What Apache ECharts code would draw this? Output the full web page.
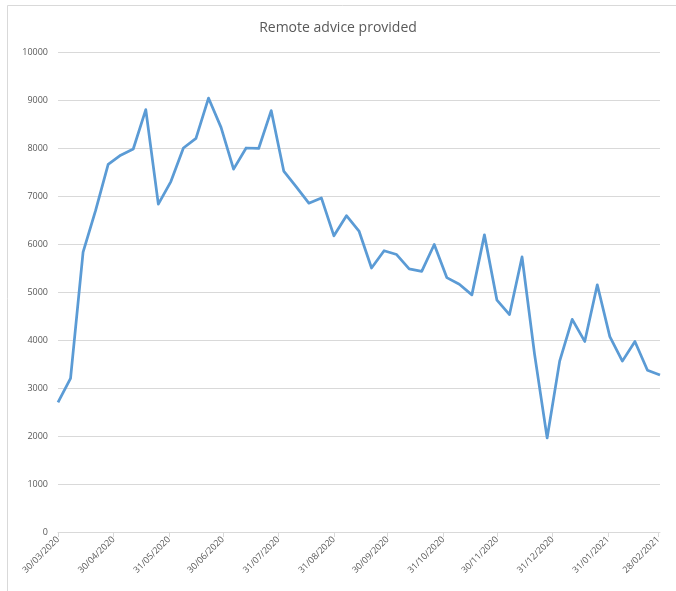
<!DOCTYPE html>
<html>
<head>
<meta charset="utf-8">
<script src="https://cdn.jsdelivr.net/npm/echarts@6/dist/echarts.min.js"></script>
<style>
  html, body { margin: 0; padding: 0; background: #fff; }
  #chart { width: 676px; height: 591px; }
</style>
</head>
<body>
<div id="chart"></div>
<script>
// Week-commencing dates (dd/mm/yyyy)
const weeks = [
  '30/03/2020', '06/04/2020', '13/04/2020', '20/04/2020', '27/04/2020',
  '04/05/2020', '11/05/2020', '18/05/2020', '25/05/2020', '01/06/2020',
  '08/06/2020', '15/06/2020', '22/06/2020', '29/06/2020', '06/07/2020',
  '13/07/2020', '20/07/2020', '27/07/2020', '03/08/2020', '10/08/2020',
  '17/08/2020', '24/08/2020', '31/08/2020', '07/09/2020', '14/09/2020',
  '21/09/2020', '28/09/2020', '05/10/2020', '12/10/2020', '19/10/2020',
  '26/10/2020', '02/11/2020', '09/11/2020', '16/11/2020', '23/11/2020',
  '30/11/2020', '07/12/2020', '14/12/2020', '21/12/2020', '28/12/2020',
  '04/01/2021', '11/01/2021', '18/01/2021', '25/01/2021', '01/02/2021',
  '08/02/2021', '15/02/2021', '22/02/2021', '01/03/2021'
];

// Remote advice provided per week
const adviceCount = [
  2700, 3200, 5830, 6700, 7660,
  7850, 7980, 8800, 6830, 7300,
  8000, 8200, 9040, 8430, 7560,
  8000, 7990, 8780, 7520, 7190,
  6850, 6960, 6170, 6590, 6270,
  5500, 5860, 5780, 5480, 5430,
  5990, 5300, 5160, 4940, 6190,
  4830, 4530, 5730, 3700, 1960,
  3560, 4430, 3970, 5150, 4070,
  3560, 3970, 3370, 3270
];

// Dates shown on the horizontal axis
const tickDates = [
  '30/03/2020', '30/04/2020', '31/05/2020', '30/06/2020', '31/07/2020',
  '31/08/2020', '30/09/2020', '31/10/2020', '30/11/2020', '31/12/2020',
  '31/01/2021', '28/02/2021'
];

const yTicks = [0, 1000, 2000, 3000, 4000, 5000, 6000, 7000, 8000, 9000, 10000];

function toTime(s) {
  const [d, m, y] = s.split('/').map(Number);
  return Date.UTC(y, m - 1, d);
}
function pad(n) { return (n < 10 ? '0' : '') + n; }
function fmt(t) {
  const dt = new Date(t);
  return pad(dt.getUTCDate()) + '/' + pad(dt.getUTCMonth() + 1) + '/' + dt.getUTCFullYear();
}

const tickTimes = tickDates.map(toTime);
const seriesData = weeks.map((w, i) => [toTime(w), adviceCount[i]]);

const chart = echarts.init(document.getElementById('chart'), null, { renderer: 'canvas' });
const textColor = '#595959';
const font = '"Open Sans", "Liberation Sans", sans-serif';

chart.setOption({
  backgroundColor: '#ffffff',
  animation: false,
  title: {
    text: 'Remote advice provided',
    left: 'center',
    top: 16,
    textStyle: { fontFamily: font, fontSize: 14, fontWeight: 'normal', color: textColor }
  },
  graphic: [{
    type: 'rect',
    shape: { x: 7.5, y: 5.5, width: 700, height: 620 },
    style: { fill: 'none', stroke: '#d9d9d9', lineWidth: 1 },
    silent: true
  }],
  grid: { left: 58, right: 16, top: 52, bottom: 59, containLabel: false },
  xAxis: {
    type: 'value',
    min: toTime(weeks[0]),
    max: toTime(weeks[weeks.length - 1]),
    axisLine: { show: true, lineStyle: { color: '#d9d9d9', width: 1 } },
    axisTick: { show: true, customValues: tickTimes, length: 5, lineStyle: { color: '#d9d9d9' } },
    axisLabel: {
      customValues: tickTimes,
      formatter: v => fmt(v),
      rotate: 45,
      fontFamily: font,
      fontSize: 9,
      color: textColor,
      margin: 6
    },
    splitLine: { show: false }
  },
  yAxis: {
    type: 'value',
    min: yTicks[0],
    max: yTicks[yTicks.length - 1],
    interval: 1000,
    axisLine: { show: false },
    axisTick: { show: false },
    axisLabel: { fontFamily: font, fontSize: 9, color: textColor, margin: 10, formatter: v => String(v) },
    splitLine: { lineStyle: { color: '#d9d9d9', width: 1 } }
  },
  series: [{
    type: 'line',
    data: seriesData,
    showSymbol: false,
    symbol: 'none',
    lineStyle: { color: '#5b9bd5', width: 2.75, join: 'round' },
    itemStyle: { color: '#5b9bd5' }
  }]
});
</script>
</body>
</html>
